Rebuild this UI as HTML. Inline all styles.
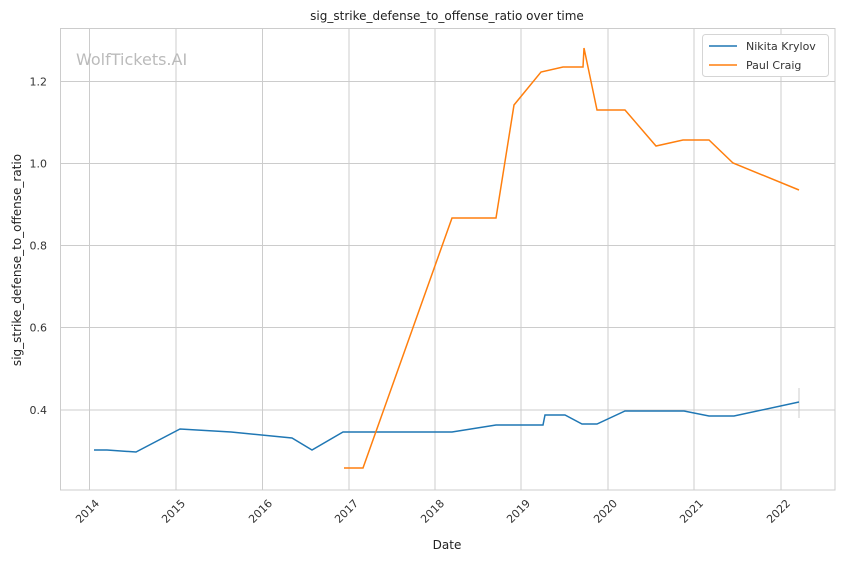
<!DOCTYPE html>
<html><head><meta charset="utf-8"><style>body{margin:0;background:#fff}svg{display:block;font-family:"DejaVu Sans","Liberation Sans",sans-serif}</style></head><body>
<svg width="844" height="561" viewBox="0 0 844 561">
<rect width="844" height="561" fill="#fff"/>
<g stroke="#cccccc" stroke-width="1">
<line x1="89.5" y1="28" x2="89.5" y2="490"/><line x1="176" y1="28" x2="176" y2="490"/><line x1="262.5" y1="28" x2="262.5" y2="490"/><line x1="349" y1="28" x2="349" y2="490"/><line x1="435" y1="28" x2="435" y2="490"/><line x1="521" y1="28" x2="521" y2="490"/><line x1="608" y1="28" x2="608" y2="490"/><line x1="694" y1="28" x2="694" y2="490"/><line x1="781" y1="28" x2="781" y2="490"/>
<line x1="60" y1="81.5" x2="835" y2="81.5"/><line x1="60" y1="163.5" x2="835" y2="163.5"/><line x1="60" y1="245.5" x2="835" y2="245.5"/><line x1="60" y1="327.5" x2="835" y2="327.5"/><line x1="60" y1="410" x2="835" y2="410"/>
<rect x="60.5" y="28.5" width="774.5" height="461.5" fill="none"/>
</g>
<text x="76" y="65" font-size="16" fill="#bbbbbb">WolfTickets.AI</text>
<line x1="799" y1="388" x2="799" y2="418" stroke="#cccccc" stroke-width="1"/>
<polyline fill="none" stroke="#1f77b4" stroke-width="1.5" points="94,450 107,450 136,452 180,429 231,432 292,438 312,450 343,432 452,432 496,425 543,425 545,415 565,415 582,424 597,424 625,411 684,411 709,416 734,416 799,402"/>
<polyline fill="none" stroke="#ff7f0e" stroke-width="1.5" points="344,468 363,468 452,218 496,218 514,105 541,72 563,67 583,67 584,48 597,110 625,110 656,146 683,140 709,140 733,163 799,190"/>
<g font-size="11" fill="#333" text-anchor="end">
<text x="47" y="85.5">1.2</text><text x="47" y="167.5">1.0</text><text x="47" y="249.5">0.8</text><text x="47" y="331.5">0.6</text><text x="47" y="414">0.4</text>
</g>
<g font-size="11" fill="#333" text-anchor="end">
<text transform="translate(100,504) rotate(-45)">2014</text>
<text transform="translate(186,504) rotate(-45)">2015</text>
<text transform="translate(273,504) rotate(-45)">2016</text>
<text transform="translate(359,504) rotate(-45)">2017</text>
<text transform="translate(445,504) rotate(-45)">2018</text>
<text transform="translate(531,504) rotate(-45)">2019</text>
<text transform="translate(618,504) rotate(-45)">2020</text>
<text transform="translate(704,504) rotate(-45)">2021</text>
<text transform="translate(791,504) rotate(-45)">2022</text>
</g>
<text x="447" y="549" font-size="12" fill="#222" text-anchor="middle">Date</text>
<text transform="translate(21,260) rotate(-90)" font-size="12" fill="#222" text-anchor="middle">sig_strike_defense_to_offense_ratio</text>
<text x="447" y="20" font-size="12" fill="#222" text-anchor="middle">sig_strike_defense_to_offense_ratio over time</text>
<rect x="702.5" y="34.5" width="126" height="42" rx="3" fill="#fff" stroke="#d5d5d5"/>
<line x1="709" y1="46" x2="737" y2="46" stroke="#1f77b4" stroke-width="1.5"/>
<line x1="709" y1="65" x2="737" y2="65" stroke="#ff7f0e" stroke-width="1.5"/>
<text x="746" y="50" font-size="11" fill="#333">Nikita Krylov</text>
<text x="746" y="69" font-size="11" fill="#333">Paul Craig</text>
</svg>
</body></html>
